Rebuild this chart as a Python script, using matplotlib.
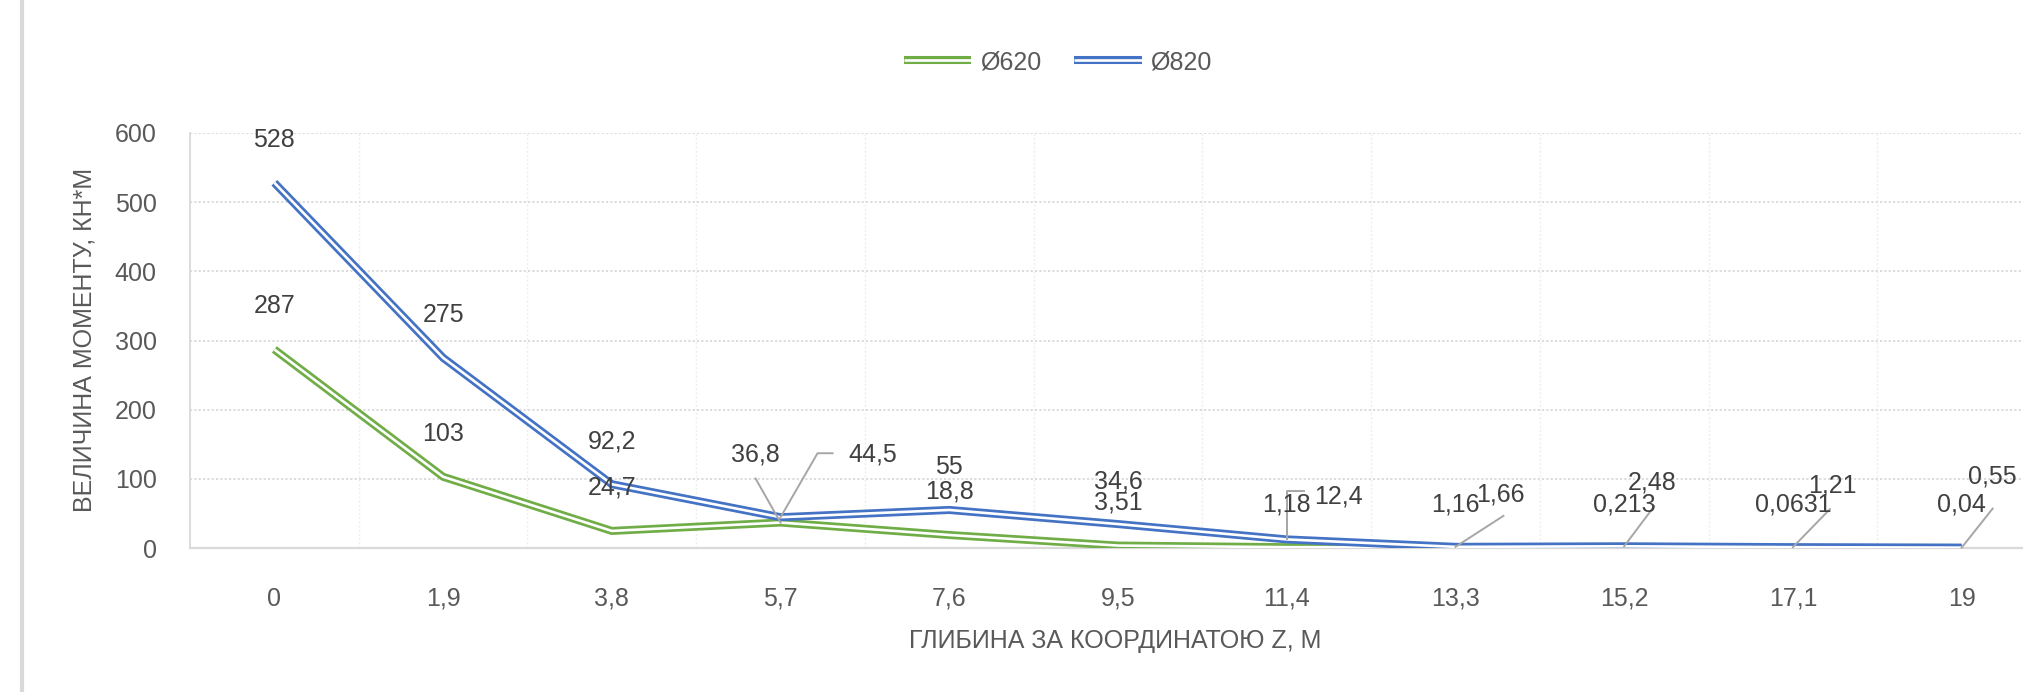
import matplotlib
matplotlib.use("Agg")
import matplotlib.pyplot as plt
import matplotlib.patheffects as pe
import matplotlib.transforms as mtransforms
from matplotlib.lines import Line2D

# Depth along the Z axis (m) and bending moment (kN*m) for two pile diameters
depth_labels = ["0", "1,9", "3,8", "5,7", "7,6", "9,5", "11,4", "13,3", "15,2", "17,1", "19"]
moment_620 = [287, 103, 24.7, 36.8, 18.8, 3.51, 1.18, 1.16, 0.213, 0.0631, 0.04]
moment_820 = [528, 275, 92.2, 44.5, 55, 34.6, 12.4, 1.66, 2.48, 1.21, 0.55]
series_names = ["Ø620", "Ø820"]
y_ticks = [0, 100, 200, 300, 400, 500, 600]

GREEN = "#70AD47"
BLUE = "#4472C4"
TEXT = "#404040"
TICK = "#595959"
GRID = "#D9D9D9"
LEADER = "#A6A6A6"

plt.rcParams["font.family"] = ["Liberation Sans", "DejaVu Sans"]

W, H = 2024, 692
fig = plt.figure(figsize=(W / 100, H / 100), dpi=100)
fig.patch.set_facecolor("white")

# plot area in pixels: left 190, right 2046 (runs past the image edge), top 133, bottom 548
left, right, top, bottom = 190, 2046, 133, 548
ax = fig.add_axes([left / W, 1 - bottom / H, (right - left) / W, (bottom - top) / H])

x = list(range(len(depth_labels)))
ax.set_xlim(-0.5, len(depth_labels) - 0.5)
ax.set_ylim(0, 600)


def double_line(values, color, label):
    ln, = ax.plot(x, values, color="white", lw=1.9, label=label,
                  solid_joinstyle="miter", solid_capstyle="butt", zorder=3)
    ln.set_path_effects([
        pe.Stroke(linewidth=5.8, foreground=color, joinstyle="miter", capstyle="butt"),
        pe.Normal(),
    ])
    return ln


double_line(moment_620, GREEN, series_names[0])
double_line(moment_820, BLUE, series_names[1])

# axes styling
ax.set_yticks(y_ticks)
ax.set_xticks(x)
ax.set_xticklabels(depth_labels)
ax.set_xticks([i + 0.5 for i in x[:-1]] + [len(x) - 0.5], minor=True)
ax.tick_params(axis="both", which="both", length=0, labelsize=18, labelcolor=TICK)
ax.tick_params(axis="x", which="major", pad=28)
ax.tick_params(axis="y", which="major", pad=24)
ax.yaxis.grid(True, color=GRID, linestyle=(0, (1.2, 1.2)), linewidth=1.3)
ax.xaxis.grid(True, which="minor", color="#EEEEEE", linestyle=(0, (1.5, 1.5)), linewidth=1.0)
ax.xaxis.grid(False, which="major")
ax.set_axisbelow(True)
for s in ("top", "right"):
    ax.spines[s].set_visible(False)
ax.spines["left"].set_color(GRID)
ax.spines["left"].set_linewidth(1.3)
ax.spines["bottom"].set_color(GRID)
ax.spines["bottom"].set_linewidth(1.6)


def at_point(i, v):
    """Transform taking pixel offsets relative to the data point (i, v)."""
    return mtransforms.IdentityTransform() + mtransforms.ScaledTranslation(i, v, ax.transData)


def label(i, v, text, dx=0, dy=43, leader=None):
    ax.annotate(text, xy=(i, v), xytext=(dx, dy), textcoords="offset pixels",
                ha="center", va="center", fontsize=18, color=TEXT, zorder=5,
                annotation_clip=False)
    if leader:
        xs = [p[0] for p in leader] + [0]
        ys = [p[1] for p in leader] + [0]
        ax.add_line(Line2D(xs, ys, transform=at_point(i, v), color=LEADER,
                           lw=1.4, zorder=4, clip_on=False))


# data labels for the Ø620 series
for i, v in enumerate(moment_620):
    text = f"{v:g}".replace(".", ",")
    if i == 3:
        label(i, v, text, dx=-25, dy=68, leader=[(-25, 44)])
    else:
        label(i, v, text)

# data labels for the Ø820 series
blue_offsets = {
    3: dict(dx=92, dy=63, leader=[(52, 64), (37, 64)]),
    6: dict(dx=52, dy=43, leader=[(17, 48), (0, 48)]),
    7: dict(dx=45, dy=52, leader=[(48, 31)]),
    8: dict(dx=28, dy=64, leader=[(30, 40)]),
    9: dict(dx=39, dy=62, leader=[(37, 38)]),
    10: dict(dx=31, dy=71, leader=[(31, 39)]),
}
for i, v in enumerate(moment_820):
    text = f"{v:g}".replace(".", ",")
    label(i, v, text, **blue_offsets.get(i, {}))

# axis titles
fig.text(85 / W, 1 - 340 / H, "ВЕЛИЧИНА МОМЕНТУ, КН*М", rotation=90,
         ha="center", va="center", fontsize=18, color=TICK)
fig.text(1115 / W, 1 - 641 / H, "ГЛИБИНА ЗА КООРДИНАТОЮ Z, М",
         ha="center", va="center", fontsize=18, color=TICK)

# legend above the plot
fig.legend(loc="center", bbox_to_anchor=(1058 / W, 1 - 62 / H), ncol=2, frameon=False,
           fontsize=18, labelcolor=TICK, handlelength=2.7, handletextpad=0.36,
           columnspacing=1.3)

# chart area border on the left edge
fig.add_artist(Line2D([22 / W, 22 / W], [0, 1], color=GRID, lw=3, transform=fig.transFigure))

fig.savefig("out.png", dpi=100, facecolor="white")
